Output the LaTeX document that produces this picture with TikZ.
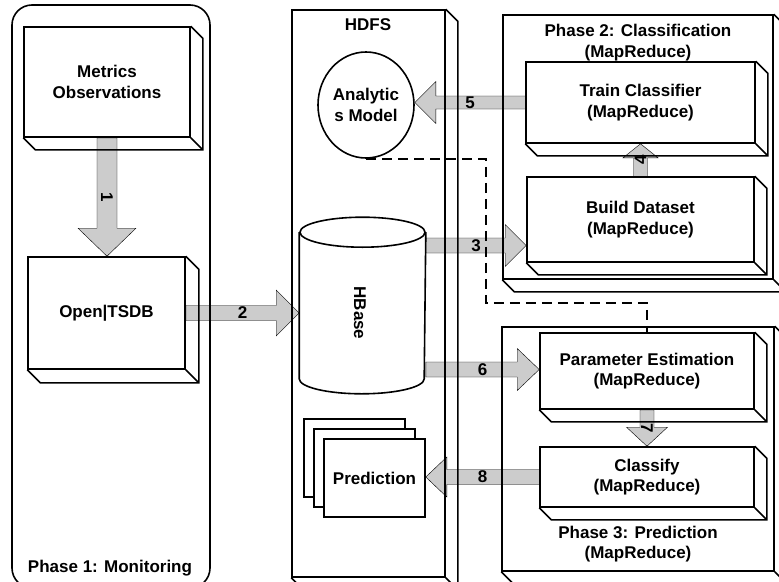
\documentclass[tikz,border=0pt]{standalone}
\usepackage{fontspec}
\setmainfont{Liberation Sans}
\usetikzlibrary{calc,shapes.geometric,shadows}
\pgfdeclarelayer{background}
\pgfsetlayers{background,main}

\newcommand{\lblfont}{\fontsize{17}{20.5}\selectfont\bfseries}

\tikzset{every picture/.style={line width=1.6pt}}
\tikzset{
  plainbox/.style={draw, inner sep=0pt, align=center, font=\lblfont},
  phasebox/.style={draw, inner sep=0pt},
  txt/.style={inner sep=0pt, align=center, font=\lblfont},
  arrlbl/.style={inner sep=0pt, font=\lblfont},
  blockarrow/.style={draw, reset cm, fill={rgb, 255:red, 204; green, 204; blue, 204}},
  linkdash/.style={dash pattern=on 10pt off 6pt},
}

% depth edges of a 3D box
\newcommand{\boxdepth}[2]{%
  \draw (#1.north east) -- ++(#2,#2) -- ($(#1.south east)+(#2,#2)$) -- ($(#1.south west)+(#2,#2)$) -- (#1.south west)
        (#1.south east) -- ++(#2,#2);
}
% fat arrow, left/right: from, to, shaft, head, head length, label
\newcommand{\harr}[6]{%
  \draw[blockarrow] let \p1=(#1), \p2=(#2), \n1={ifthenelse(\x2>\x1,1,-1)} in
    (\x1,{\y1+#3}) -- ({\x2-\n1*#5},{\y1+#3}) -- ({\x2-\n1*#5},{\y1+#4}) -- (\x2,\y1)
    -- ({\x2-\n1*#5},{\y1-#4}) -- ({\x2-\n1*#5},{\y1-#3}) -- (\x1,{\y1-#3}) -- cycle
    ({(\x1+\x2)/2},\y1) node[arrlbl] {#6};
}
% fat arrow, up/down
\newcommand{\varr}[6]{%
  \draw[blockarrow] let \p1=(#1), \p2=(#2), \n1={ifthenelse(\y2>\y1,1,-1)} in
    ({\x1+#3},\y1) -- ({\x1+#3},{\y2-\n1*#5}) -- ({\x1+#4},{\y2-\n1*#5}) -- (\x1,\y2)
    -- ({\x1-#4},{\y2-\n1*#5}) -- ({\x1-#3},{\y2-\n1*#5}) -- ({\x1-#3},\y1) -- cycle
    (\x1,{(\y1+\y2)/2}) node[arrlbl, rotate=\n1*90] {#6};
}

\begin{document}
\begin{tikzpicture}[x=1pt,y=1pt,yscale=-1,xscale=1]
\path[use as bounding box] (0,0) rectangle (779,581);

%Shape: Phase 1
\node[phasebox, rounded corners=20pt, minimum width=198pt, minimum height=583pt] (ph1) at (111,296.5) {};
% Text Node
\node[txt] (ph1lbl) at (110,568) {Phase 1: Monitoring};

%Shape: Metrics
\node[plainbox, minimum width=166pt, minimum height=110pt] (metrics) at (107,82) {Metrics\\Observations};
\boxdepth{metrics}{12}
%Shape: Open|TSDB
\node[plainbox, minimum width=157pt, minimum height=112pt] (tsdb) at (106.5,313) {Open|TSDB};
\boxdepth{tsdb}{13}

%Shape: HDFS
\node[phasebox, minimum width=153pt, minimum height=567pt] (hdfs) at (368.5,293.5) {};
\boxdepth{hdfs}{12}
% Text Node
\node[txt] (hdfslbl) at (368,25) {HDFS};
%Shape: Ellipse
\node[plainbox, ellipse, minimum width=96pt, minimum height=106pt] (model) at (366,105) {Analytic\\s Model};
%Shape: Cylinder
\node[inner sep=0pt, minimum width=125pt, minimum height=145pt] (hbase) at (362.5,305.5) {};
\draw (hbase.north west) -- (hbase.south west) arc[start angle=180, end angle=0, x radius=62.5, y radius=15] -- (hbase.north east);
\draw (hbase.north) ellipse [x radius=62.5, y radius=15];
% Text Node
\node[txt, rotate=-90] (hbaselbl) at (360,313) {HBase};
%Shape: Prediction stack
\node[plainbox, fill=white, minimum width=101pt, minimum height=78pt,
      double copy shadow={shadow xshift=-10pt, shadow yshift=10pt, fill=white, draw}] (pred) at (374.5,478) {Prediction};

%Shape: Phase 2
\node[phasebox, minimum width=270pt, minimum height=264pt] (ph2) at (638,147) {};
\boxdepth{ph2}{12}
% Text Node
\node[txt] (ph2lbl) at (638,42.5) {Phase 2: Classification\\(MapReduce)};
\node[plainbox, minimum width=229pt, minimum height=81pt] (train) at (640.5,102.5) {Train Classifier\\(MapReduce)};
\boxdepth{train}{12}
\node[plainbox, minimum width=227pt, minimum height=85pt] (build) at (640.5,219.5) {Build Dataset\\(MapReduce)};
\boxdepth{build}{12}

%Shape: Phase 3
\node[phasebox, minimum width=272pt, minimum height=244pt] (ph3) at (638,449) {};
\boxdepth{ph3}{12}
% Text Node
\node[txt] (ph3lbl) at (638,544) {Phase 3: Prediction\\(MapReduce)};
\node[plainbox, minimum width=214pt, minimum height=76pt] (param) at (647,371) {Parameter Estimation\\(MapReduce)};
\boxdepth{param}{12}
\node[plainbox, minimum width=214pt, minimum height=60pt] (classify) at (647,477) {Classify\\(MapReduce)};
\boxdepth{classify}{12}

%Dashed link
\coordinate (bend) at (486,303);
\draw[linkdash] (model.south) -| (bend) -| (param.north);

%Block arrows
\coordinate (hb3) at ($(hbase.east)+(0,-60)$);
\coordinate (hb6) at ($(hbase.east)+(0,64)$);
\begin{pgfonlayer}{background}
\varr{metrics.south}{tsdb.north}{10}{29}{28}{1}
\harr{tsdb.east}{hbase.west}{7.5}{23}{23}{2}
\harr{hb3}{build.west}{7.5}{21}{21}{3}
\varr{build.north}{train.south}{7}{17.5}{14}{4}
\harr{train.west}{model.east}{6.5}{21}{21}{5}
\harr{hb6}{param.west}{7.5}{21}{22}{6}
\varr{param.south}{classify.north}{7}{20.5}{19}{7}
\harr{classify.west}{pred.east}{7.5}{20}{21}{8}
\end{pgfonlayer}

\end{tikzpicture}
\end{document}
